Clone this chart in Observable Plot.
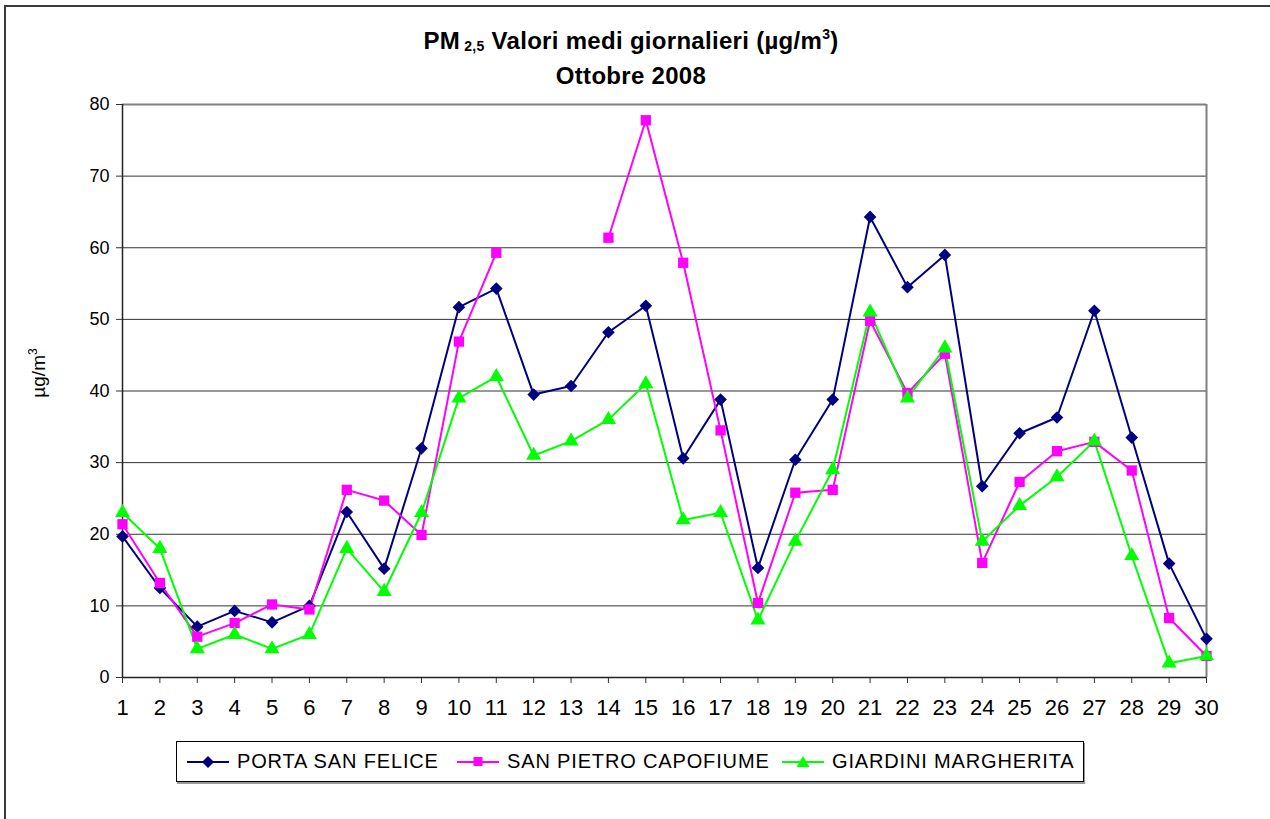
<!DOCTYPE html>
<html>
<head>
<meta charset="utf-8">
<script src="https://cdn.jsdelivr.net/npm/d3@7"></script>
<script src="https://cdn.jsdelivr.net/npm/@observablehq/plot@0.6"></script>
<style>
  html, body { margin:0; padding:0; background:#fff; width:1270px; height:819px; overflow:hidden; font-family:"Liberation Sans", Arial, sans-serif; }
  #frame { position:absolute; left:4px; top:5px; width:1400px; height:1000px; border-left:2px solid #3a3a3a; border-top:2px solid #3a3a3a; }
  #title { position:absolute; left:0; top:26px; width:1262px; text-align:center; font-weight:bold; font-size:24px; letter-spacing:0.3px; line-height:30px; color:#000; }
  #title sub { font-size:14px; vertical-align:-2px; }
  #title sup { font-size:14px; vertical-align:10px; line-height:0; }
  #chart { position:absolute; left:0; top:95px; }
  #ylabel { position:absolute; left:39px; top:373px; transform:translate(-50%,-50%) rotate(-90deg); font-size:19px; white-space:nowrap; }
  #ylabel sup { font-size:12px; vertical-align:8px; line-height:0; }
  #legend { position:absolute; left:176px; top:741px; width:906px; height:39px; border:1px solid #000; box-shadow:1px 2px 0 #9a9a9a; font-size:20px; letter-spacing:0.85px; }
  .item { position:absolute; top:0; height:39px; display:flex; align-items:center; white-space:nowrap; }
  .item svg { margin-right:8px; }
</style>
</head>
<body>
<div id="frame"></div>
<div id="title">PM<sub> 2,5</sub> Valori medi giornalieri (µg/m<sup>3</sup>)<br>Ottobre 2008</div>
<div id="chart"></div>
<div id="ylabel">µg/m<sup>3</sup></div>
<div id="legend"></div>
<script>
const days = [1,2,3,4,5,6,7,8,9,10,11,12,13,14,15,16,17,18,19,20,21,22,23,24,25,26,27,28,29,30];
const yTicks = [0,10,20,30,40,50,60,70,80];
const seriesNames = ["PORTA SAN FELICE","SAN PIETRO CAPOFIUME","GIARDINI MARGHERITA"];
const seriesColors = ["#000080","#FF00FF","#00FF00"];
const seriesSymbols = ["diamond2","square","triangle"];
const portaSanFelice = [19.7,12.5,7.1,9.3,7.7,10.0,23.1,15.2,32.0,51.7,54.3,39.5,40.7,48.2,51.9,30.6,38.8,15.3,30.4,38.8,64.3,54.5,59.0,26.7,34.1,36.3,51.2,33.5,15.9,5.4];
const sanPietroCapofiume = [21.4,13.2,5.7,7.6,10.2,9.5,26.2,24.7,19.9,46.9,59.3,null,null,61.4,77.8,57.9,34.5,10.4,25.8,26.2,49.8,39.7,45.2,16.0,27.3,31.6,32.9,28.9,8.3,3.0];
const giardiniMargherita = [23,18,4,6,4,6,18,12,23,39,42,31,33,36,41,22,23,8,19,29,51,39,46,19,24,28,33,17,2,3];
const seriesValues = [portaSanFelice, sanPietroCapofiume, giardiniMargherita];

const rows = [];
seriesNames.forEach((name, si) => {
  days.forEach((d, i) => {
    const v = seriesValues[si][i];
    rows.push({day: d, value: v == null ? NaN : v, series: name});
  });
});

const dotSizes = {"PORTA SAN FELICE": 5.7, "SAN PIETRO CAPOFIUME": 5.8, "GIARDINI MARGHERITA": 5.6};

const marks = [
  Plot.ruleY(yTicks.filter(t => t > 0 && t < 80), {stroke:"#333", strokeWidth:1}),
  Plot.ruleY([80], {stroke:"#808080", strokeWidth:2}),
  Plot.ruleX([30], {stroke:"#808080", strokeWidth:2}),
  Plot.axisX({ticks: days, tickSize:6, tickPadding:16, fontSize:22, label:null, tickFormat: d => String(d), stroke:"#333"}),
  Plot.axisY({ticks: yTicks, tickSize:6, tickPadding:7, fontSize:18, label:null, stroke:"#333"}),
  Plot.ruleX([1], {stroke:"#222", strokeWidth:1.5}),
  Plot.ruleY([0], {stroke:"#222", strokeWidth:1.5}),
  Plot.line(rows, {x:"day", y:"value", z:"series", stroke:"series", strokeWidth:2})
];
seriesNames.forEach(name => {
  marks.push(Plot.dot(rows.filter(r => r.series === name && isFinite(r.value)), {x:"day", y:"value", fill:"series", symbol:"series", r: dotSizes[name], stroke:"none"}));
});

const chart = Plot.plot({
  width:1270, height:622,
  marginLeft:122, marginRight:64, marginTop:9, marginBottom:40,
  style:{fontFamily:"'Liberation Sans', Arial, sans-serif", background:"transparent", color:"#000", overflow:"visible"},
  x:{domain:[1,30]},
  y:{domain:[0,80]},
  color:{domain:seriesNames, range:seriesColors},
  symbol:{domain:seriesNames, range:seriesSymbols},
  marks
});
document.getElementById("chart").appendChild(chart);

// legend
const legend = document.getElementById("legend");
const shapePaths = {
  "diamond2": "M21,1 L27,7 L21,13 L15,7 Z",
  "square": "M16.5,2 H25.5 V11 H16.5 Z",
  "triangle": "M21,1 L27.5,12 L14.5,12 Z"
};
const legendLeft = [10, 280, 605];
seriesNames.forEach((name, i) => {
  const item = document.createElement("div");
  item.className = "item";
  item.style.left = legendLeft[i] + "px";
  item.innerHTML = `<svg width="42" height="14"><line x1="0" y1="7" x2="42" y2="7" stroke="${seriesColors[i]}" stroke-width="2"/><path d="${shapePaths[seriesSymbols[i]]}" fill="${seriesColors[i]}"/></svg><span>${name}</span>`;
  legend.appendChild(item);
});
</script>
</body>
</html>
